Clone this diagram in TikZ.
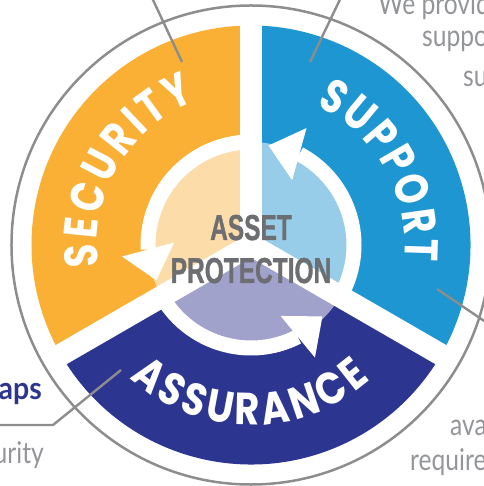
\documentclass[tikz,border=0pt]{standalone}
\usepackage{fontspec}
\usepackage{graphicx}
\setmainfont{Liberation Sans}
\newfontfamily\lblfont{Poppins}[FakeStretch=0.8]
\newfontfamily\lblfontb{Poppins}[FakeStretch=0.85]
\newfontfamily\ctrfont{Liberation Sans}[BoldFeatures={FakeBold=1.2}]
\newfontfamily\sidefont{Lato}
\usetikzlibrary{calc,decorations.text}
\definecolor{orangeS}{HTML}{F9B035}
\definecolor{blueS}{HTML}{1E96D2}
\definecolor{navyS}{HTML}{2C3590}
\definecolor{lorangeS}{HTML}{FCDCA8}
\definecolor{lblueS}{HTML}{98CDEA}
\definecolor{lnavyS}{HTML}{A0A2CC}
\definecolor{ctrgrey}{HTML}{6D6E71}
\definecolor{sidegrey}{HTML}{939598}
\definecolor{linegrey}{HTML}{8D8D8D}
\tikzset{
  shaft/.style={white, line width=15},
  gapline/.style={white, line width=22},
  leader/.style={linegrey, line width=2.4},
  ctrtext/.style={text=ctrgrey, inner sep=0, anchor=base, font=\ctrfont\bfseries\fontsize{36}{36}\selectfont},
  sidetext/.style={text=sidegrey, inner sep=0, font=\sidefont\fontsize{30}{30}\selectfont},
  arclabel/.style={decorate, decoration={text along path, text color=white, text align={fit to path}}}
}
\begin{document}
\begin{tikzpicture}[x=1pt,y=1pt]
\useasboundingbox (-251,-241) rectangle (232,245);
\coordinate (O) at (0,0);
% outer sectors
\fill[orangeS] (O) -- (90:219.5) arc[start angle=90,end angle=210,radius=219.5] -- cycle;
\fill[navyS] (O) -- (210:219.5) arc[start angle=210,end angle=330,radius=219.5] -- cycle;
\fill[blueS] (O) -- (330:219.5) arc[start angle=330,end angle=450,radius=219.5] -- cycle;
% inner light sectors
\fill[lorangeS] (O) -- (90:103) arc[start angle=90,end angle=210,radius=103] -- cycle;
\fill[lnavyS] (O) -- (210:103) arc[start angle=210,end angle=330,radius=103] -- cycle;
\fill[lblueS] (O) -- (330:103) arc[start angle=330,end angle=450,radius=103] -- cycle;
% circular arrow shafts
\draw[shaft] (-32:103) arc[start angle=-32,end angle=62,radius=103];
\draw[shaft] (88:103) arc[start angle=88,end angle=182.5,radius=103];
\draw[shaft] (208:103) arc[start angle=208,end angle=297,radius=103];
% arrow heads
\coordinate (b1) at (62:103);  \coordinate (t1) at (80:101);
\coordinate (b2) at (182.5:103); \coordinate (t2) at (200.5:101);
\coordinate (b3) at (297:103); \coordinate (t3) at (315:101);
\foreach \i in {1,2,3}{
  \fill[white] ($(b\i)!27pt!90:(t\i)$) -- (t\i) -- ($(b\i)!27pt!-90:(t\i)$) -- cycle;
}
% white gaps
\foreach \a in {90,210,330}{ \draw[gapline] (O) -- (\a:226); }
% outer grey ring
\draw[linegrey, line width=2.5] (O) circle[radius=239.5];
% leader lines
\coordinate (l1a) at (-69,183); \coordinate (l1b) at (-104,258);
\coordinate (l2a) at (59,183);  \coordinate (l2b) at (95,258);
\coordinate (l3a) at (186,-44); \coordinate (l3b) at (245,-84);
\coordinate (l4a) at (-130,-125); \coordinate (l4b) at (-198,-180); \coordinate (l4c) at (-260,-180);
\draw[leader] (l1a) -- (l1b);
\draw[leader] (l2a) -- (l2b);
\draw[leader] (l3a) -- (l3b);
\draw[leader] (l4a) -- (l4b) -- (l4c);
% centre text
\node[ctrtext] (asset) at (0,5) {\scalebox{0.68}[1]{ASSET}};
\node[ctrtext] (prot) at (0,-38) {\scalebox{0.68}[1]{PROTECTION}};
% curved labels
\path[arclabel, decoration={text={|\lblfont\bfseries\fontsize{47}{47}\selectfont|SECURITY}}]
  (188:154) arc[start angle=188,end angle=111,radius=154];
\path[arclabel, decoration={text={|\lblfont\bfseries\fontsize{47}{47}\selectfont|SUPPORT}}]
  (65:154) arc[start angle=65,end angle=-6,radius=154];
\path[arclabel, decoration={text={|\lblfontb\bfseries\fontsize{45}{45}\selectfont|ASSURANCE}}]
  (227.5:180) arc[start angle=227.5,end angle=311.5,radius=180];
% side texts
\node[sidetext, anchor=base west] (s1) at (127,230) {\scalebox{0.82}[1]{We provid}};
\node[sidetext, anchor=base west] (s2) at (171,198) {\scalebox{0.82}[1]{suppo}};
\node[sidetext, anchor=base west] (s3) at (212,158) {\scalebox{0.82}[1]{su}};
\node[sidetext, anchor=base west] (s4) at (199,-190) {\scalebox{0.82}[1]{ava}};
\node[sidetext, anchor=base west] (s5) at (159,-225) {\scalebox{0.82}[1]{require}};
\node[sidetext, anchor=base east] (s6) at (-207,-218) {\scalebox{0.82}[1]{urity}};
\node[text=navyS, inner sep=0, anchor=base east, font=\sidefont\bfseries\fontsize{31}{31}\selectfont] (s7) at (-209,-154) {\scalebox{0.92}[1]{aps}};
\end{tikzpicture}
\end{document}
